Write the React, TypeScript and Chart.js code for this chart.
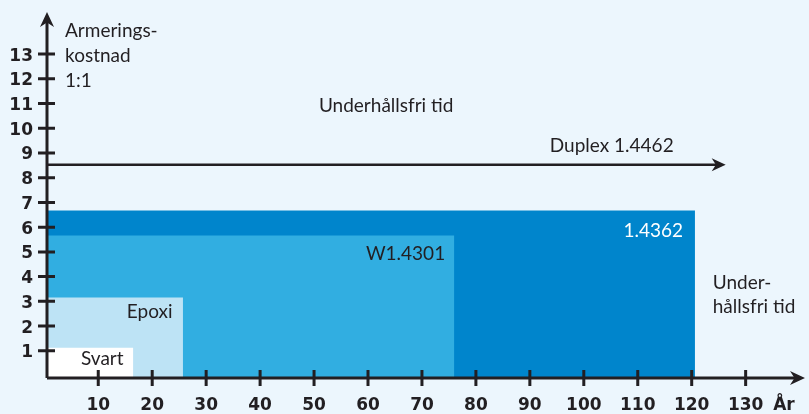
import React, { useEffect, useRef } from "react";
import { Chart, registerables } from "chart.js";

Chart.register(...registerables);

// ---- data ----
const xTickValues = [10, 20, 30, 40, 50, 60, 70, 80, 90, 100, 110, 120, 130];
const yTickValues = [1, 2, 3, 4, 5, 6, 7, 8, 9, 10, 11, 12, 13];
const materials = ["Svart", "Epoxi", "W1.4301", "1.4362"];
const maintenanceFreeYears = [16.5, 25.7, 76.0, 120.6];
const reinforcementCost = [1.12, 3.16, 5.66, 6.67];
const materialColors = ["#FFFFFF", "#BDE3F5", "#31AEE1", "#0085CC"];
const duplexName = "Duplex 1.4462";
const duplexCost = 8.52;
const duplexYears = 126.3;

const X_MIN = 0.5;
const X_MAX = 141;
const Y_MIN = -0.1;
const Y_MAX = 14.7;

const INK = "#221F22";
const BG = "#ECF6FD";
const FONT = "Lato";
const BOLD_FONT = '"DejaVu Sans"';

function arrowHead(ctx: CanvasRenderingContext2D, x: number, y: number, dir: "right" | "up", len: number, half: number) {
  ctx.beginPath();
  if (dir === "right") {
    ctx.moveTo(x, y);
    ctx.lineTo(x - len, y - half);
    ctx.lineTo(x - len * 0.7, y);
    ctx.lineTo(x - len, y + half);
  } else {
    ctx.moveTo(x, y);
    ctx.lineTo(x - half, y + len);
    ctx.lineTo(x, y + len * 0.7);
    ctx.lineTo(x + half, y + len);
  }
  ctx.closePath();
  ctx.fill();
}

const axesPlugin = {
  id: "customAxes",
  afterDatasetsDraw(chart: any) {
    const ctx: CanvasRenderingContext2D = chart.ctx;
    const xs = chart.scales.x;
    const ys = chart.scales.y;
    const px = (v: number) => xs.getPixelForValue(v);
    const py = (v: number) => ys.getPixelForValue(v);
    ctx.save();
    ctx.strokeStyle = INK;
    ctx.fillStyle = INK;

    // duplex arrow head
    arrowHead(ctx, px(duplexYears), py(duplexCost), "right", 14, 6.5);

    const x0 = px(X_MIN);
    const y0 = py(Y_MIN);
    // axes
    ctx.lineWidth = 3;
    ctx.beginPath();
    ctx.moveTo(x0, y0);
    ctx.lineTo(px(X_MAX) - 8, y0);
    ctx.moveTo(x0, y0);
    ctx.lineTo(x0, py(Y_MAX) + 8);
    ctx.stroke();
    arrowHead(ctx, px(X_MAX), y0, "right", 15, 7);
    arrowHead(ctx, x0, py(Y_MAX), "up", 15, 7);

    // ticks
    ctx.lineWidth = 3;
    ctx.beginPath();
    xTickValues.forEach((v) => {
      const x = px(v);
      ctx.moveTo(x, y0 - 8);
      ctx.lineTo(x, y0 + 8);
    });
    yTickValues.forEach((v) => {
      const y = py(v);
      ctx.moveTo(x0 - 9, y);
      ctx.lineTo(x0 + 8, y);
    });
    ctx.stroke();

    // tick labels
    ctx.font = `bold 17px ${BOLD_FONT}`;
    ctx.textBaseline = "alphabetic";
    ctx.textAlign = "center";
    xTickValues.forEach((v) => ctx.fillText(String(v), px(v), y0 + 32));
    ctx.textAlign = "right";
    yTickValues.forEach((v) => ctx.fillText(String(v), x0 - 14, py(v) + 6.5));
    ctx.textAlign = "left";
    ctx.fillText("År", px(135.1), y0 + 32);

    // annotations
    ctx.font = `19px ${FONT}`;
    const put = (t: string, x: number, y: number, align: CanvasTextAlign = "left", color = INK) => {
      ctx.textAlign = align;
      ctx.fillStyle = color;
      ctx.fillText(t, px(x), py(y));
    };
    put("Armerings-", 3.84, 13.69);
    put("kostnad", 3.84, 12.68);
    put("1:1", 3.84, 11.67);
    put("Underhållsfri tid", 50.9, 10.66);
    put(duplexName, 93.7, 9.04);
    put(materials[3], 118.4, 5.6, "right", "#FFFFFF");
    put(materials[2], 74.3, 4.67, "right");
    put(materials[1], 15.3, 2.33);
    put(materials[0], 6.8, 0.43);
    put("Under-", 123.9, 3.5);
    put("hållsfri tid", 123.9, 2.53);
    ctx.restore();
  },
};

export default function App() {
  const ref = useRef<HTMLCanvasElement>(null);
  useEffect(() => {
    document.body.style.margin = "0";
    const canvas = ref.current!;
    const datasets: any[] = materials.map((name, i) => ({
      label: name,
      data: [
        { x: X_MIN, y: reinforcementCost[i] },
        { x: maintenanceFreeYears[i], y: reinforcementCost[i] },
      ],
      borderWidth: 0,
      borderColor: "rgba(0,0,0,0)",
      backgroundColor: materialColors[i],
      pointRadius: 0,
      fill: { value: Y_MIN },
      order: i,
    }));
    datasets.push({
      label: duplexName,
      data: [
        { x: X_MIN, y: duplexCost },
        { x: duplexYears - 1.5, y: duplexCost },
      ],
      borderWidth: 2.5,
      borderColor: INK,
      pointRadius: 0,
      fill: false,
      order: -1,
    });
    const chart = new Chart(canvas, {
      type: "line",
      data: { datasets },
      options: {
        animation: false,
        responsive: false,
        devicePixelRatio: 1,
        layout: { padding: { left: 47, right: 4, top: 12, bottom: 36 } },
        plugins: { legend: { display: false }, tooltip: { enabled: false } },
        scales: {
          x: { type: "linear", min: X_MIN, max: X_MAX, display: false },
          y: { type: "linear", min: Y_MIN, max: Y_MAX, display: false },
        },
      },
      plugins: [
        {
          id: "bg",
          beforeDraw(c: any) {
            const ctx = c.ctx;
            ctx.save();
            ctx.fillStyle = BG;
            ctx.fillRect(0, 0, c.width, c.height);
            ctx.restore();
          },
        },
        axesPlugin,
      ],
    });
    return () => chart.destroy();
  }, []);
  return (
    <div style={{ position: "absolute", left: 0, top: 0, width: 809, height: 414, background: BG }}>
      <canvas ref={ref} width={809} height={414} />
    </div>
  );
}
